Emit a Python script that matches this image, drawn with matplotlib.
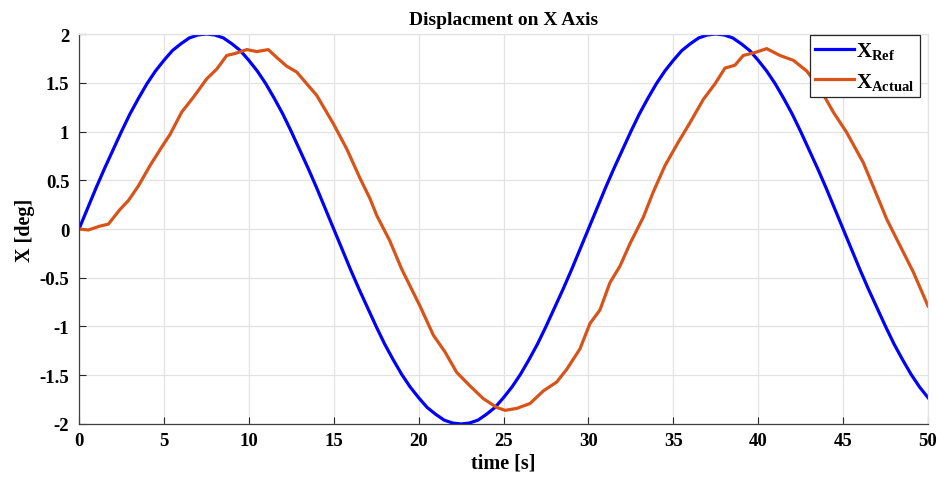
"""Displacement on X axis: reference vs actual."""

import matplotlib
matplotlib.use("Agg")
import matplotlib.pyplot as plt

# reference trajectory, every 0.5 s
t_ref = [i * 0.5 for i in range(101)]
x_ref = [0.0, 0.21, 0.42, 0.62, 0.81, 1.00, 1.18, 1.34, 1.49, 1.62, 1.73,
         1.83, 1.90, 1.96, 1.99, 2.00, 1.99, 1.96, 1.90, 1.83, 1.73,
         1.62, 1.49, 1.34, 1.18, 1.00, 0.81, 0.62, 0.42, 0.21, 0.0,
         -0.21, -0.42, -0.62, -0.81, -1.00, -1.18, -1.34, -1.49, -1.62, -1.73,
         -1.83, -1.90, -1.96, -1.99, -2.00, -1.99, -1.96, -1.90, -1.83, -1.73,
         -1.62, -1.49, -1.34, -1.18, -1.00, -0.81, -0.62, -0.42, -0.21, 0.0,
         0.21, 0.42, 0.62, 0.81, 1.00, 1.18, 1.34, 1.49, 1.62, 1.73,
         1.83, 1.90, 1.96, 1.99, 2.00, 1.99, 1.96, 1.90, 1.83, 1.73,
         1.62, 1.49, 1.34, 1.18, 1.00, 0.81, 0.62, 0.42, 0.21, 0.0,
         -0.21, -0.42, -0.62, -0.81, -1.00, -1.18, -1.34, -1.49, -1.62, -1.73]

# measured trajectory
t_act = [0, 0.55, 1.24, 1.73, 2.41, 2.90, 3.49, 4.18, 4.87, 5.36,
         6.05, 6.73, 7.52, 8.11, 8.70, 9.19, 9.88, 10.47, 11.15, 11.64,
         12.23, 12.82, 13.41, 14.00, 14.98, 15.77, 16.55, 17.14, 17.53, 18.30,
         19.00, 20.08, 20.87, 21.55, 22.24, 23.03, 23.81, 24.60, 25.09, 25.78,
         26.56, 27.35, 28.13, 28.72, 29.50, 30.09, 30.68, 31.27, 31.86, 32.45,
         33.23, 33.82, 34.51, 35.29, 35.98, 36.77, 37.46, 38.04, 38.63, 39.12,
         39.81, 40.50, 41.28, 42.07, 42.86, 43.64, 44.42, 45.21, 46.19, 47.17,
         47.57, 48.06, 48.35, 49.13, 50.0]
x_act = [0.0, -0.01, 0.03, 0.05, 0.20, 0.29, 0.44, 0.65, 0.84, 0.97,
         1.20, 1.35, 1.54, 1.64, 1.78, 1.80, 1.84, 1.82, 1.84, 1.76,
         1.67, 1.61, 1.49, 1.37, 1.08, 0.82, 0.52, 0.31, 0.14, -0.12,
         -0.41, -0.79, -1.09, -1.26, -1.47, -1.61, -1.74, -1.83, -1.86, -1.84,
         -1.79, -1.66, -1.57, -1.44, -1.23, -0.97, -0.83, -0.55, -0.38, -0.15,
         0.12, 0.38, 0.65, 0.89, 1.09, 1.33, 1.49, 1.65, 1.68, 1.78,
         1.81, 1.85, 1.78, 1.73, 1.62, 1.44, 1.20, 0.99, 0.68, 0.27,
         0.10, -0.07, -0.17, -0.44, -0.79]

x_ticks = list(range(0, 51, 5))
y_ticks = [-2, -1.5, -1, -0.5, 0, 0.5, 1, 1.5, 2]
y_tick_labels = ["-2", "-1.5", "-1", "-0.5", "0", "0.5", "1", "1.5", "2"]

plt.rcParams["font.family"] = ["Liberation Serif", "DejaVu Serif"]
plt.rcParams["font.weight"] = "bold"
plt.rcParams["mathtext.fontset"] = "custom"
plt.rcParams["mathtext.rm"] = "Liberation Serif:bold"
plt.rcParams["mathtext.bf"] = "Liberation Serif:bold"
plt.rcParams["mathtext.it"] = "Liberation Serif:bold"

fig = plt.figure(figsize=(9.43, 4.89), dpi=100)
ax = fig.add_axes([0.0838, 0.1309, 0.9003, 0.7975])

ax.plot(t_ref, x_ref, color="#0000ff", linewidth=2.3, label=r"$\mathbf{X_{Ref}}$")
ax.plot(t_act, x_act, color="#d95319", linewidth=2.3, label=r"$\mathbf{X_{Actual}}$")

ax.set_xlim(0, 50)
ax.set_ylim(-2, 2)
ax.set_xticks(x_ticks)
ax.set_yticks(y_ticks)
ax.set_yticklabels(y_tick_labels)
ax.tick_params(direction="in", length=5, width=0.8, labelsize=13.5, color="#262626")
ax.tick_params(axis="x", pad=6)
ax.tick_params(axis="y", pad=7)
ax.grid(True, color="#e3e3e3", linewidth=0.9)
ax.set_axisbelow(True)

for side in ("left", "bottom"):
    ax.spines[side].set_color("#404040")
    ax.spines[side].set_linewidth(0.9)
for side in ("top", "right"):
    ax.spines[side].set_color("#e3e3e3")
    ax.spines[side].set_linewidth(0.9)

ax.set_title("Displacment on X Axis", fontsize=14, fontweight="bold", pad=7)
ax.set_xlabel("time [s]", fontsize=14.5, fontweight="bold", labelpad=2)
ax.set_ylabel("X [deg]", fontsize=14.5, fontweight="bold", labelpad=3)

leg = ax.legend(loc="upper right", bbox_to_anchor=(0.9906, 0.9974), fontsize=15,
                frameon=True, fancybox=False, handlelength=1.9, handletextpad=0.1,
                borderpad=0.25, labelspacing=0.45, borderaxespad=0.0)
leg.get_frame().set_edgecolor("#262626")
leg.get_frame().set_linewidth(0.9)
leg.get_frame().set_alpha(1.0)

fig.savefig("out.png", dpi=100)
